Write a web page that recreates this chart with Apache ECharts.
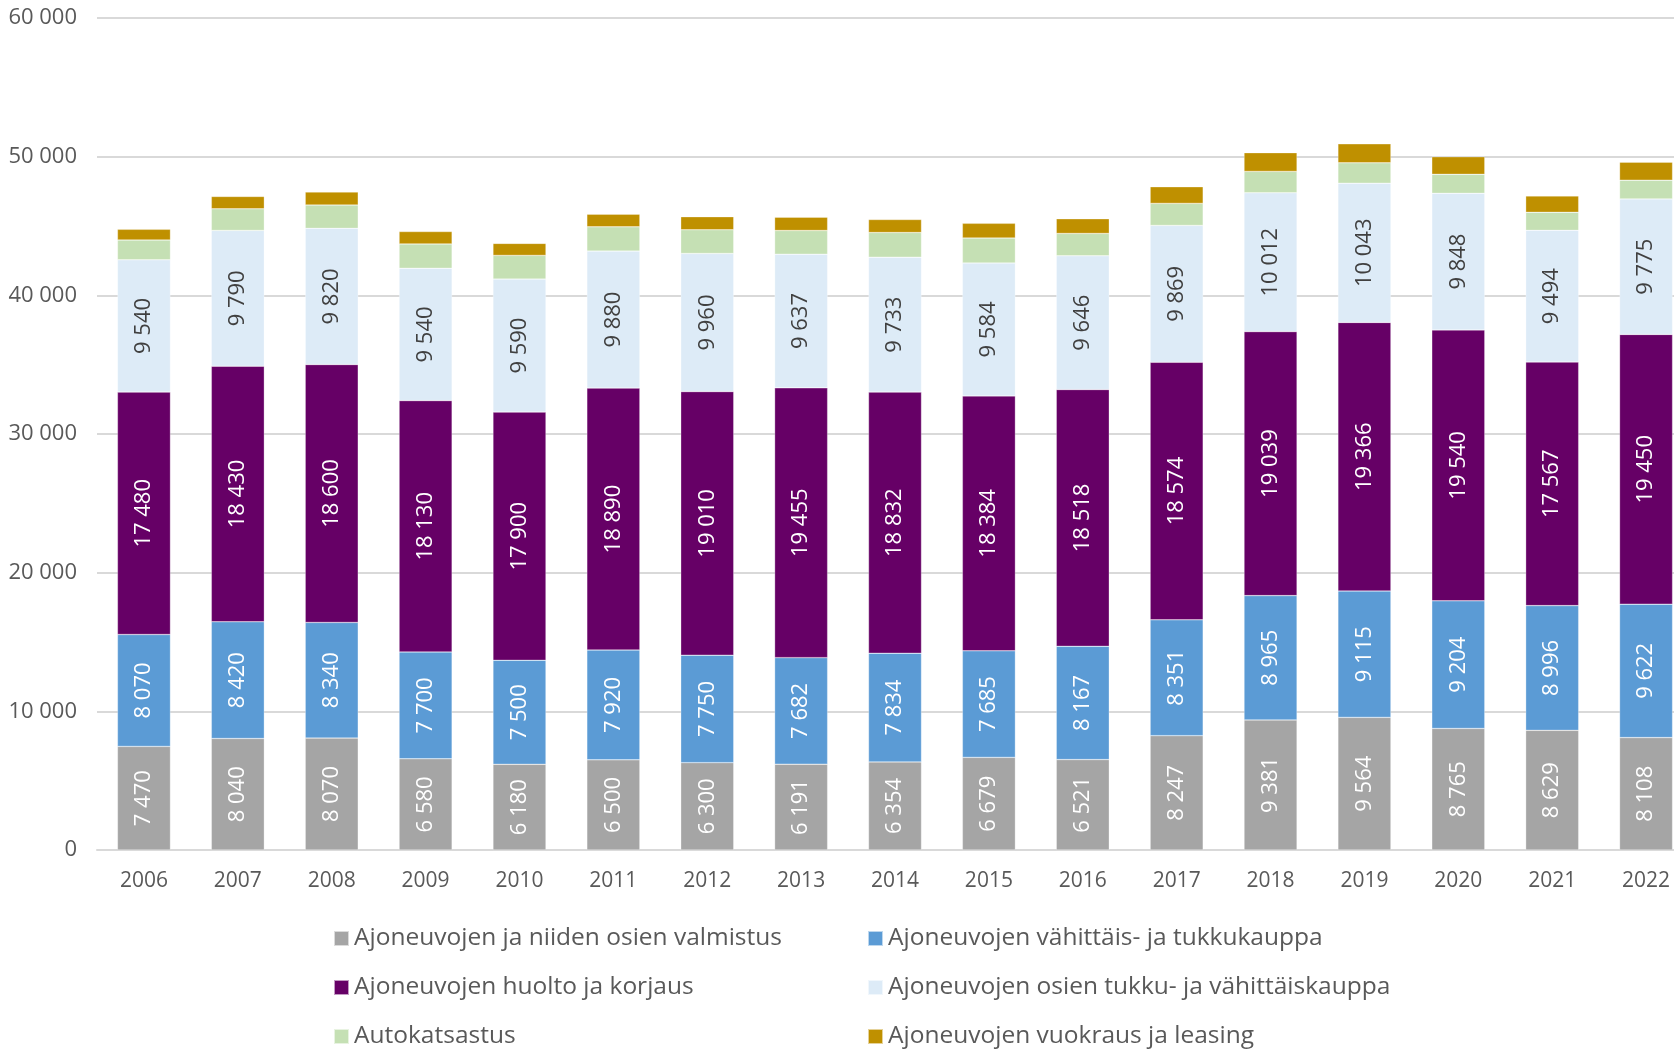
<!DOCTYPE html>
<html>
<head>
<meta charset="utf-8">
<script src="https://cdn.jsdelivr.net/npm/echarts@6/dist/echarts.min.js"></script>
<style>
  html, body { margin: 0; padding: 0; background: #fff; overflow: hidden; }
  /* alkuperäinen kuva on rajattu oikeasta reunasta: piirtoalue jatkuu ikkunan yli */
  #chart { width: 1693px; height: 1051px; }
</style>
</head>
<body>
<div id="chart"></div>
<script>
const years = ['2006', '2007', '2008', '2009', '2010', '2011', '2012', '2013', '2014', '2015', '2016', '2017', '2018', '2019', '2020', '2021', '2022'];

const valmistus = [7470, 8040, 8070, 6580, 6180, 6500, 6300, 6191, 6354, 6679, 6521, 8247, 9381, 9564, 8765, 8629, 8108];
const vahittaisTukku = [8070, 8420, 8340, 7700, 7500, 7920, 7750, 7682, 7834, 7685, 8167, 8351, 8965, 9115, 9204, 8996, 9622];
const huolto = [17480, 18430, 18600, 18130, 17900, 18890, 19010, 19455, 18832, 18384, 18518, 18574, 19039, 19366, 19540, 17567, 19450];
const osienKauppa = [9540, 9790, 9820, 9540, 9590, 9880, 9960, 9637, 9733, 9584, 9646, 9869, 10012, 10043, 9848, 9494, 9775];
// arvioitu kuvasta (ei datalabeleita)
const autokatsastus = [1430, 1560, 1680, 1760, 1710, 1750, 1710, 1710, 1775, 1800, 1610, 1590, 1540, 1465, 1370, 1300, 1350];
const vuokraus = [770, 890, 940, 890, 865, 915, 940, 960, 940, 1060, 1060, 1200, 1350, 1370, 1270, 1180, 1300];

const FONT = '"Open Sans", "Noto Sans", sans-serif';

function fmt(v) {
  return String(v).replace(/\B(?=(\d{3})+(?!\d))/g, ' ');
}

const chart = echarts.init(document.getElementById('chart'));

function barSeries(name, data, color, labelColor) {
  return {
    name: name,
    type: 'bar',
    stack: 'total',
    barWidth: 53,
    data: data,
    itemStyle: { color: color, borderColor: 'rgba(255,255,255,0.6)', borderWidth: 0.5 },
    label: labelColor ? {
      show: true,
      position: 'inside',
      rotate: 90,
      color: labelColor,
      fontFamily: FONT,
      fontSize: 22,
      formatter: p => fmt(p.value)
    } : { show: false },
    emphasis: { disabled: true }
  };
}

const legendText = { color: '#595959', fontFamily: FONT, fontSize: 24.5 };

function legendCol(left, names) {
  return {
    orient: 'vertical',
    left: left,
    top: 926,
    height: 125,
    padding: 0,
    itemWidth: 15,
    itemHeight: 15,
    itemGap: 24,
    icon: 'rect',
    textStyle: legendText,
    selectedMode: false,
    data: names
  };
}

const option = {
  animation: false,
  grid: { left: 97, right: 0, top: 18, bottom: 201, containLabel: false },
  xAxis: {
    type: 'category',
    data: years,
    axisLine: { lineStyle: { color: '#D9D9D9', width: 2 } },
    axisTick: { show: false },
    axisLabel: { color: '#595959', fontFamily: FONT, fontSize: 21, margin: 21 }
  },
  yAxis: {
    type: 'value',
    min: 0,
    max: 60000,
    interval: 10000,
    axisLine: { show: false },
    axisTick: { show: false },
    splitLine: { lineStyle: { color: '#D9D9D9', width: 2 } },
    axisLabel: { color: '#595959', fontFamily: FONT, fontSize: 22, margin: 20, formatter: v => fmt(v) }
  },
  legend: [
    legendCol(333, ['Ajoneuvojen ja niiden osien valmistus', 'Ajoneuvojen huolto ja korjaus', 'Autokatsastus']),
    legendCol(867, ['Ajoneuvojen vähittäis- ja tukkukauppa', 'Ajoneuvojen osien tukku- ja vähittäiskauppa', 'Ajoneuvojen vuokraus ja leasing'])
  ],
  series: [
    barSeries('Ajoneuvojen ja niiden osien valmistus', valmistus, '#A5A5A5', '#FFFFFF'),
    barSeries('Ajoneuvojen vähittäis- ja tukkukauppa', vahittaisTukku, '#5B9BD5', '#FFFFFF'),
    barSeries('Ajoneuvojen huolto ja korjaus', huolto, '#660066', '#FFFFFF'),
    barSeries('Ajoneuvojen osien tukku- ja vähittäiskauppa', osienKauppa, '#DDEBF7', '#404040'),
    barSeries('Autokatsastus', autokatsastus, '#C5E0B4', null),
    barSeries('Ajoneuvojen vuokraus ja leasing', vuokraus, '#BF9000', null)
  ]
};

chart.setOption(option);
</script>
</body>
</html>
